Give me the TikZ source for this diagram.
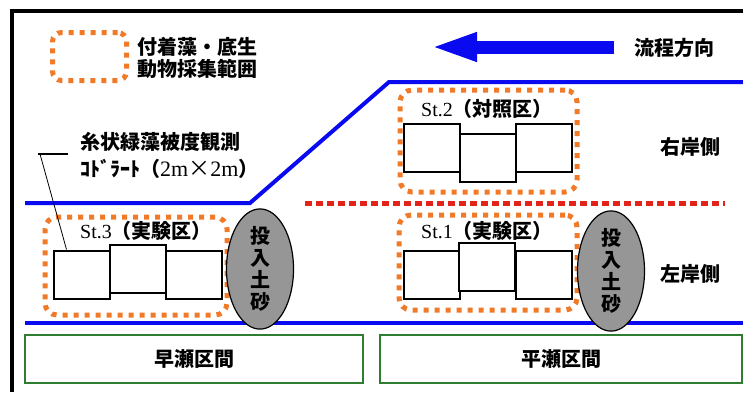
\documentclass[tikz,border=0pt]{standalone}
\usepackage{fontspec}
\setmainfont{Liberation Serif}
\newfontfamily\jp{Noto Sans CJK JP}
\usetikzlibrary{arrows.meta,shapes.geometric,calc}
\definecolor{riv}{HTML}{0A0AF0}
\definecolor{samp}{HTML}{F07A28}
\definecolor{divd}{HTML}{E2231A}
\definecolor{reach}{HTML}{2E7D32}
\definecolor{sand}{HTML}{969696}
\tikzset{quad/.style={draw, line width=2pt, fill=white, minimum width=56pt, minimum height=48pt, inner sep=0pt},
         zonebox/.style={draw=samp, line width=5pt, dash pattern=on 5pt off 6pt, rounded corners=12pt, inner sep=0pt},
         lbl/.style={font=\fontsize{20}{22}\selectfont\jp\bfseries, inner sep=0pt, align=center},
         stn/.style={font=\fontsize{20}{22}\selectfont, inner sep=0pt},
         soil/.style={ellipse, draw, line width=1.2pt, fill=sand, minimum width=67pt, minimum height=98pt, inner sep=0pt, align=center, font=\fontsize{20}{22}\selectfont\jp\bfseries},
         reachbox/.style={draw=reach, line width=2.5pt, minimum height=48pt, inner sep=0pt, font=\fontsize{20}{22}\selectfont\jp\bfseries},
         bank/.style={riv, line width=4pt}}

\begin{document}
\begin{tikzpicture}[x=1pt, y=-1pt]
\useasboundingbox (0,0) rectangle (743,392);
\draw[line width=3.5pt] (12,392) -- (12,11) -- (743,11);
\node[zonebox, minimum width=74pt, minimum height=48pt, rounded corners=9pt] (key) at (89.5,56.5) {};
\node[lbl, anchor=west, align=left] (keytxt) at (137,58) {付着藻・底生\\動物採集範囲};
\coordinate (flowS) at (614,47); \coordinate (flowE) at (430,47);
\draw[riv, line width=13pt, -{Triangle[length=47pt, width=26pt]}] (flowS) -- (flowE);
\node[lbl] (flow) at (674.5,48) {流程方向};
\draw[bank] (25,203) -- (250,203) -- (389,82) -- (743,82);
\draw[bank] (25,323) -- (743,323);
\draw[divd, line width=5pt, dash pattern=on 7pt off 4pt] (305,203) -- (725,203);
\node[zonebox, minimum width=177pt, minimum height=102pt] (z2) at (488.5,141) {};
\node[quad] (q2a) at (432,148) {};
\node[quad] (q2c) at (544,148) {};
\node[quad] (q2b) at (488,157.5) {};
\node[stn] (s2) at (487,109) {St.2{\jp\bfseries（対照区）}};
\node[lbl] (rb) at (690.5,147) {右岸側};
\node[zonebox, minimum width=182pt, minimum height=98pt] (z3) at (136,266) {};
\node[quad] (q3a) at (81.5,274.5) {};
\node[quad] (q3c) at (193.5,274.5) {};
\node[quad] (q3b) at (137.5,269) {};
\node[stn] (s3) at (146,231) {St.3{\jp\bfseries（実験区）}};
\node[soil] (e3) at (260,269) {投\\入\\土\\砂};
\node[zonebox, minimum width=178pt, minimum height=95pt] (z1) at (488,262.5) {};
\node[quad] (q1a) at (431.5,274.5) {};
\node[quad] (q1c) at (544,274.5) {};
\node[quad] (q1b) at (487,267) {};
\node[stn] (s1) at (487,231) {St.1{\jp\bfseries（実験区）}};
\node[soil] (e1) at (611,271) {投\\入\\土\\砂};
\node[lbl] (lb) at (690.5,273.5) {左岸側};
\node[lbl, anchor=west, align=left, font=\fontsize{20}{27}\selectfont\jp\bfseries] (qd) at (80,155) {糸状緑藻被度観測\\ｺﾄﾞﾗｰﾄ（{\rmfamily\mdseries\fontsize{22}{27}\selectfont 2m{\jp\mdseries ×}2m}）};
\coordinate (tick) at (38,154);
\draw[line width=2pt] (tick) -- ++(30,0);
\draw[line width=0.8pt] ($(tick)+(2,0)$) -- ([xshift=14pt]q3a.north west);
\node[reachbox, minimum width=338pt] (fast) at (194,359) {早瀬区間};
\node[reachbox, minimum width=362pt] (flat) at (561,359) {平瀬区間};
\end{tikzpicture}
\end{document}
